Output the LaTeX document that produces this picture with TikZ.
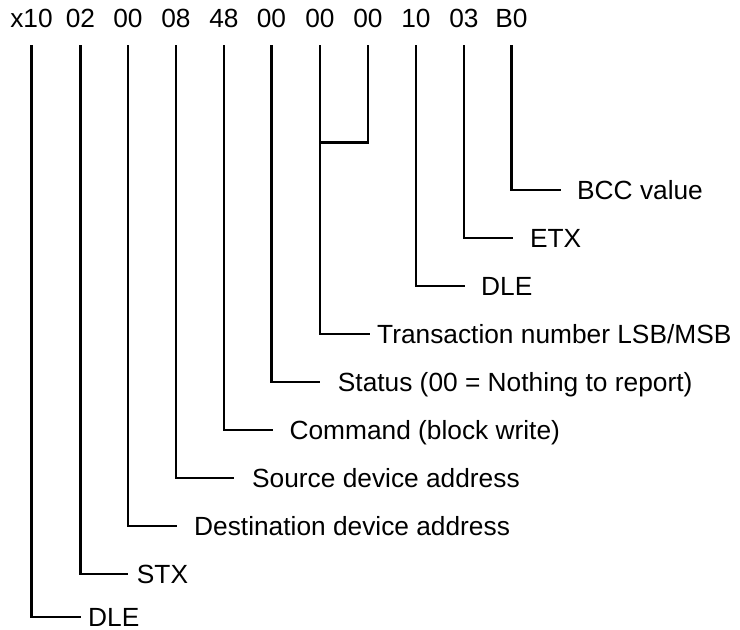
\documentclass[tikz,border=0pt]{standalone}
\usepackage{fontspec}
\setmainfont{Liberation Sans}
\begin{document}
\begin{tikzpicture}[x=1pt,y=-1pt,
  txt/.style={inner sep=0pt, text height=18.8pt, text depth=0pt, font=\fontsize{26.3}{30}\selectfont},
  byte/.style={txt},
  lab/.style={txt, anchor=west},
  conn/.style={line width=2.7pt, line join=miter}]
\useasboundingbox (0,0) rectangle (740,630);
% byte row
\node[byte] (b1)  at (31.5,18)  {x10};
\node[byte] (b2)  at (80.5,18)  {02};
\node[byte] (b3)  at (128,18)   {00};
\node[byte] (b4)  at (176,18)   {08};
\node[byte] (b5)  at (224,18)   {48};
\node[byte] (b6)  at (271.5,18) {00};
\node[byte] (b7)  at (320,18)   {00};
\node[byte] (b8)  at (368,18)   {00};
\node[byte] (b9)  at (416,18)   {10};
\node[byte] (b10) at (464,18)   {03};
\node[byte] (b11) at (511.5,18) {B0};
% labels
\node[lab] (bcc)   at (577,190)   {BCC value};
\node[lab] (etx)   at (529.8,238) {ETX};
\node[lab] (dle2)  at (481,286)   {DLE};
\node[lab] (trans) at (377,334)   {Transaction number LSB/MSB};
\node[lab] (stat)  at (337.7,382) {Status (00 = Nothing to report)};
\node[lab] (cmd)   at (289.4,430) {Command (block write)};
\node[lab] (src)   at (252,478)   {Source device address};
\node[lab] (dst)   at (194,526)   {Destination device address};
\node[lab] (stx)   at (136.7,574) {STX};
\node[lab] (dle1)  at (88,617)    {DLE};
\coordinate (tj) at (0,142.7);
% connectors
\draw[conn, shorten <=17.6pt, shorten >=16pt]   (b11.south) |- (bcc.west);
\draw[conn, shorten <=17.6pt, shorten >=16.8pt] (b10.south) |- (etx.west);
\draw[conn, shorten <=17.6pt, shorten >=16pt]   (b9.south)  |- (dle2.west);
\draw[conn, shorten <=17.6pt]                   (b8.south)  |- (b7.south |- tj);
\draw[conn, shorten <=17.6pt, shorten >=7pt]    (b7.south)  |- (trans.west);
\draw[conn, shorten <=17.6pt, shorten >=17.3pt] (b6.south)  |- (stat.west);
\draw[conn, shorten <=17.6pt, shorten >=16.7pt] (b5.south)  |- (cmd.west);
\draw[conn, shorten <=17.6pt, shorten >=18pt]   (b4.south)  |- (src.west);
\draw[conn, shorten <=17.6pt, shorten >=17.3pt] (b3.south)  |- (dst.west);
\draw[conn, shorten <=17.6pt, shorten >=8.7pt]  (b2.south)  |- (stx.west);
\draw[conn, shorten <=17.6pt, shorten >=7pt]    (b1.south)  |- (dle1.west);
\end{tikzpicture}
\end{document}
